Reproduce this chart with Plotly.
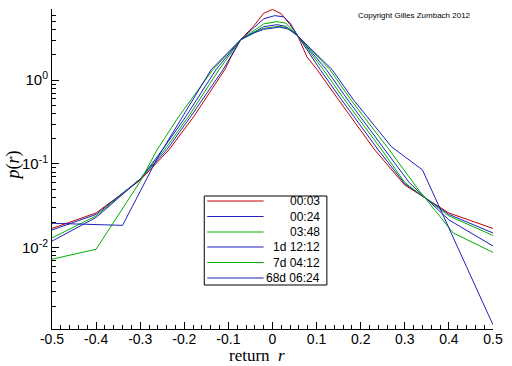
import plotly.graph_objects as go

# ---- data (return r, density p(r)) ----
names = ["00:03", "00:24", "03:48", "1d 12:12", "7d 04:12", "68d 06:24"]
colors = ["#c00000", "#2020c0", "#00b000", "#2020c0", "#00b000", "#2020c0"]

r_0003 = [-0.5, -0.4, -0.3, -0.235, -0.179, -0.123, -0.108, -0.094, -0.072, -0.04, -0.02, 0.0, 0.02, 0.04, 0.057, 0.078, 0.101, 0.15, 0.232, 0.3, 0.4, 0.5]
p_0003 = [0.017, 0.026, 0.064, 0.147, 0.365, 1.0, 1.34, 1.9, 3.05, 4.6, 6.3, 7.0, 6.2, 4.6, 3.4, 1.9, 1.34, 0.58, 0.147, 0.056, 0.026, 0.017]

r_0024 = [-0.5, -0.4, -0.3, -0.24, -0.186, -0.112, -0.072, -0.04, -0.02, 0.005, 0.025, 0.04, 0.057, 0.108, 0.157, 0.24, 0.3, 0.4, 0.5]
p_0024 = [0.0163, 0.025, 0.066, 0.147, 0.365, 1.34, 3.05, 4.4, 5.4, 5.9, 5.7, 4.8, 3.4, 1.34, 0.58, 0.147, 0.058, 0.025, 0.015]

r_0348 = [-0.5, -0.4, -0.3, -0.245, -0.191, -0.121, -0.072, -0.04, -0.02, 0.01, 0.03, 0.057, 0.115, 0.164, 0.248, 0.3, 0.4, 0.5]
p_0348 = [0.0131, 0.024, 0.066, 0.147, 0.365, 1.34, 3.05, 4.0, 4.7, 5.0, 4.8, 3.4, 1.34, 0.58, 0.147, 0.06, 0.024, 0.014]

r_1d = [-0.5, -0.4, -0.3, -0.25, -0.197, -0.128, -0.072, -0.04, -0.02, 0.01, 0.03, 0.057, 0.122, 0.171, 0.256, 0.31, 0.4, 0.5]
p_1d = [0.012, 0.023, 0.066, 0.147, 0.365, 1.34, 3.05, 3.85, 4.35, 4.6, 4.4, 3.4, 1.34, 0.58, 0.147, 0.06, 0.0215, 0.0105]

r_7d = [-0.5, -0.4, -0.3, -0.262, -0.213, -0.135, -0.072, -0.04, -0.02, 0.015, 0.035, 0.057, 0.13, 0.178, 0.265, 0.33, 0.41, 0.5]
p_7d = [0.0073, 0.0096, 0.062, 0.147, 0.365, 1.34, 3.05, 3.75, 4.15, 4.4, 4.2, 3.4, 1.34, 0.58, 0.147, 0.05, 0.015, 0.0088]

r_68d = [-0.5, -0.34, -0.26, -0.204, -0.139, -0.072, -0.04, -0.02, 0.015, 0.035, 0.057, 0.135, 0.184, 0.27, 0.34, 0.5]
p_68d = [0.0196, 0.0185, 0.12, 0.365, 1.34, 3.05, 3.7, 4.05, 4.3, 4.1, 3.4, 1.34, 0.58, 0.16, 0.085, 0.0012]

series_r = [r_0003, r_0024, r_0348, r_1d, r_7d, r_68d]
series_p = [p_0003, p_0024, p_0348, p_1d, p_7d, p_68d]

x_ticks = [-0.5, -0.4, -0.3, -0.2, -0.1, 0.0, 0.1, 0.2, 0.3, 0.4, 0.5]
x_ticktext = ["-0.5", "-0.4", "-0.3", "-0.2", "-0.1", "0", "0.1", "0.2", "0.3", "0.4", "0.5"]
y_ticks = [0.01, 0.1, 1]
y_ticktext = ["10<sup>-2</sup>", "10<sup>-1</sup>", "10<sup>0</sup>"]
y_minor = [m * 10.0 ** e for e in (-3, -2, -1, 0) for m in range(2, 10) if m * 10.0 ** e <= 7]

fig = go.Figure()
for name, col, xs, ys in zip(names, colors, series_r, series_p):
    fig.add_trace(go.Scatter(x=xs, y=ys, mode="lines", name=name,
                             line=dict(color=col, width=1), showlegend=False))

# ---- custom legend (right-aligned labels, like the reference) ----
L = 52; R = 14; T = 9; B = 37
W = 512 - L - R; H = 366 - T - B
def px(x): return (x - L) / W
def py(y): return (366 - B - y) / H

shapes = [dict(type="rect", xref="paper", yref="paper",
               x0=px(206), x1=px(330), y0=py(285), y1=py(196),
               line=dict(color="black", width=1), fillcolor="white", layer="above")]
annotations = []
row_y = [201, 216.5, 232, 247, 262.5, 278]
for name, col, yy in zip(names, colors, row_y):
    shapes.append(dict(type="line", xref="paper", yref="paper",
                       x0=px(209), x1=px(266), y0=py(yy), y1=py(yy),
                       line=dict(color=col, width=1), layer="above"))
    annotations.append(dict(xref="paper", yref="paper", x=px(325), y=py(yy),
                            text=name, showarrow=False, xanchor="right", yanchor="middle",
                            font=dict(family="Liberation Sans, Arial", size=12, color="black")))

annotations.append(dict(xref="paper", yref="paper", x=px(419), y=py(16), text="Copyright Gilles Zumbach 2012",
                        showarrow=False, xanchor="center", yanchor="middle",
                        font=dict(family="Liberation Sans, Arial", size=8, color="black")))
annotations.append(dict(xref="paper", yref="paper", x=px(259), y=py(355), text="return  <i>r</i>",
                        showarrow=False, xanchor="center", yanchor="middle",
                        font=dict(family="Liberation Serif, Times New Roman", size=17, color="black")))
annotations.append(dict(xref="paper", yref="paper", x=px(13), y=py(165), text="<i>p</i>(<i>r</i>)",
                        showarrow=False, xanchor="center", yanchor="middle", textangle=-90,
                        font=dict(family="Liberation Serif, Times New Roman", size=18, color="black")))

fig.update_layout(
    width=512, height=366,
    margin=dict(l=L, r=R, t=T, b=B, pad=0),
    paper_bgcolor="white", plot_bgcolor="white",
    font=dict(family="Liberation Sans, Arial", size=14, color="black"),
    shapes=shapes, annotations=annotations,
    xaxis=dict(range=[-0.5, 0.5], tickmode="array", tickvals=x_ticks, ticktext=x_ticktext,
               ticks="inside", ticklen=7, tickwidth=1, tickcolor="black",
               showline=True, linecolor="black", linewidth=1, showgrid=False, zeroline=False,
               minor=dict(dtick=0.02, tick0=0, ticks="inside", ticklen=4, tickcolor="black", showgrid=False),
               tickfont=dict(size=14), ticklabelstandoff=-3),
    yaxis=dict(type="log", range=[-2.97, 0.85], tickmode="array", tickvals=y_ticks, ticktext=y_ticktext,
               ticks="inside", ticklen=7, tickwidth=1, tickcolor="black",
               showline=True, linecolor="black", linewidth=1, showgrid=False, zeroline=False,
               minor=dict(tickmode="array", tickvals=y_minor, ticks="inside", ticklen=4,
                          tickcolor="black", showgrid=False),
               tickfont=dict(size=15)),
)

fig.write_html("out.html", config={"displayModeBar": False},
               post_script="document.body.style.margin='0';document.body.style.overflow='hidden';")
